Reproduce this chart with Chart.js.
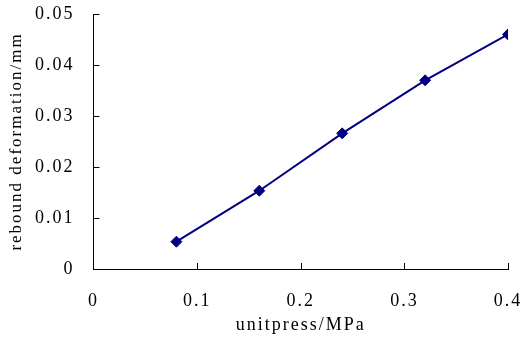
<!DOCTYPE html>
<html><head><meta charset="utf-8">
<script src="https://cdn.jsdelivr.net/npm/chart.js@4.4.0/dist/chart.umd.min.js"></script>
<style>html,body{margin:0;padding:0;background:#fff}#w{width:523px;height:342px}</style>
</head><body><div id="w"><canvas id="c" width="523" height="342"></canvas></div>
<script>
const pressures = [0.08, 0.16, 0.24, 0.32, 0.40];
const rebound = [0.00535, 0.01535, 0.0266, 0.0370, 0.0460];
const xTicks = [0, 0.1, 0.2, 0.3, 0.4];
const yTicks = [0, 0.01, 0.02, 0.03, 0.04, 0.05];

const spacing = {
  id: 'spacing',
  beforeLayout(chart) { chart.ctx.letterSpacing = '2px'; },
  beforeDraw(chart) { chart.ctx.letterSpacing = '2px'; }
};

const inwardTicks = {
  id: 'inwardTicks',
  afterDraw(chart) {
    const {ctx, scales: {x, y}} = chart;
    ctx.save();
    ctx.strokeStyle = '#000';
    ctx.lineWidth = 1;
    ctx.beginPath();
    xTicks.forEach(v => { if (v === 0) return; const px = Math.round(x.getPixelForValue(v)) + 0.5; ctx.moveTo(px, y.bottom); ctx.lineTo(px, y.bottom - 6); });
    yTicks.forEach(v => { if (v === 0) return; const py = Math.round(y.getPixelForValue(v)) + 0.5; ctx.moveTo(x.left, py); ctx.lineTo(x.left + 6, py); });
    ctx.stroke();
    ctx.restore();
  }
};

function zeroPad(s) { s.paddingTop = 0; s.paddingBottom = 0; s.paddingLeft = 0; s.paddingRight = 0; }

new Chart(document.getElementById('c'), {
  type: 'scatter',
  data: { datasets: [{
    data: pressures.map((p, i) => ({x: p, y: rebound[i]})),
    showLine: true,
    borderColor: '#000080',
    backgroundColor: '#000080',
    borderWidth: 2,
    pointStyle: 'rectRot',
    pointRadius: 5.5,
    pointHoverRadius: 5.5,
    pointBorderWidth: 1,
    tension: 0
  }]},
  options: {
    responsive: false,
    animation: false,
    layout: { padding: { top: 14, right: 15, left: 0, bottom: 0 } },
    plugins: { legend: { display: false }, tooltip: { enabled: false } },
    scales: {
      x: {
        type: 'linear', min: 0, max: 0.4,
        afterBuildTicks: s => { s.ticks = xTicks.map(v => ({value: v})); },
        afterFit: s => { s.height = 73; zeroPad(s); },
        grid: { display: false, drawTicks: false },
        border: { display: true, color: '#000', width: 1 },
        ticks: { color: '#000', padding: 21, font: { family: 'Liberation Serif', size: 18 }, callback: v => String(v), maxRotation: 0 },
        title: { display: true, text: 'unitpress/MPa', color: '#000', font: { family: 'Liberation Serif', size: 18 }, padding: { top: 0, bottom: 6 } }
      },
      y: {
        type: 'linear', min: 0, max: 0.05,
        afterBuildTicks: s => { s.ticks = yTicks.map(v => ({value: v})); },
        afterFit: s => { s.width = 93.5; zeroPad(s); },
        grid: { display: false, drawTicks: false },
        border: { display: true, color: '#000', width: 1 },
        ticks: { color: '#000', padding: 19, font: { family: 'Liberation Serif', size: 18 }, callback: v => String(v) },
        title: { display: true, text: 'rebound deformation/mm', color: '#000', font: { family: 'Liberation Serif', size: 17 }, padding: { top: 6, bottom: 0 } }
      }
    }
  },
  plugins: [spacing, inwardTicks]
});
</script></body></html>
